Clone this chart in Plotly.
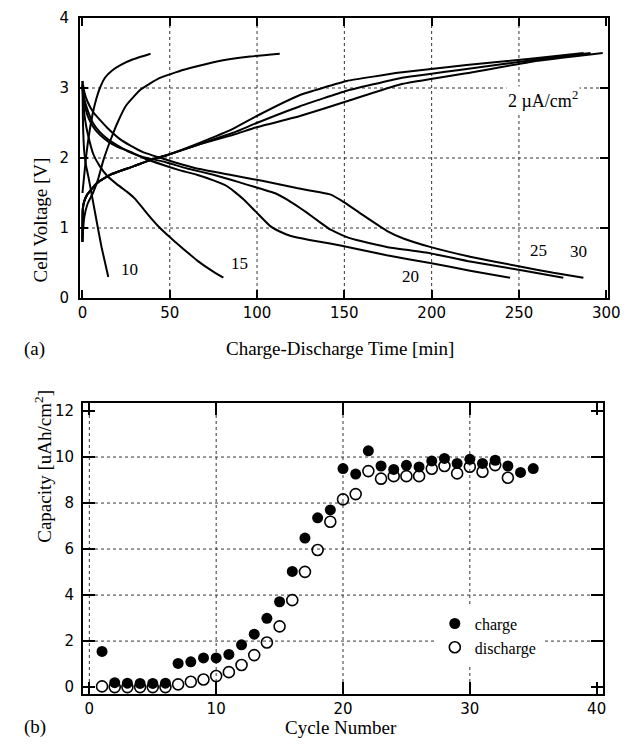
import plotly.graph_objects as go

# ---------------- Panel (a): charge / discharge curves (2 uA/cm2) ----------------
# charge curves
c10_t = [0, 1, 2, 3, 4.5, 6, 8, 10, 13, 17, 22, 29, 39]
c10_v = [1.5, 1.75, 2.0, 2.2, 2.45, 2.65, 2.85, 3.0, 3.15, 3.25, 3.33, 3.41, 3.49]
c15_t = [0, 1, 3, 6, 9, 12, 16, 20, 25, 33, 44, 58, 77, 96, 113]
c15_v = [0.85, 1.15, 1.35, 1.5, 1.7, 1.97, 2.25, 2.5, 2.75, 2.97, 3.14, 3.26, 3.38, 3.45, 3.49]
c20_t = [0, 0.2, 1, 2.8, 8.2, 15.8, 29.2, 38.7, 48.3, 67.4, 86.4, 99.8, 124.6, 151.4, 181.9, 220, 258, 287]
c20_v = [0.8, 1.27, 1.38, 1.48, 1.64, 1.76, 1.88, 1.97, 2.04, 2.22, 2.42, 2.6, 2.9, 3.1, 3.22, 3.33, 3.42, 3.5]
c25_t = [0, 0.2, 1, 2.8, 8.2, 15.8, 29.2, 38.7, 48.3, 67.4, 86.4, 99.8, 124.6, 151.4, 181.9, 220, 258, 291]
c25_v = [0.8, 1.27, 1.38, 1.48, 1.64, 1.76, 1.88, 1.97, 2.04, 2.2, 2.36, 2.5, 2.74, 2.96, 3.14, 3.27, 3.40, 3.5]
c30_t = [0, 0.2, 1, 2.8, 8.2, 15.8, 29.2, 38.7, 48.3, 67.4, 86.4, 99.8, 124.6, 151.4, 181.9, 220, 258, 298]
c30_v = [0.8, 1.27, 1.38, 1.48, 1.64, 1.76, 1.88, 1.97, 2.04, 2.2, 2.33, 2.44, 2.6, 2.81, 3.05, 3.21, 3.38, 3.5]

# discharge curves
d10_t = [0, 0.3, 1, 2, 3.5, 5, 7, 9, 11, 13, 14.8]
d10_v = [3.1, 2.5, 2.1, 1.9, 1.72, 1.52, 1.25, 0.98, 0.72, 0.5, 0.3]
d15_t = [0, 0.5, 1.5, 3, 6.3, 10, 14, 20, 25.4, 30, 35, 40, 44.4, 50, 55, 61.6, 66, 71, 76, 80.7]
d15_v = [3.05, 2.8, 2.55, 2.35, 2.05, 1.88, 1.75, 1.62, 1.52, 1.42, 1.27, 1.12, 1.0, 0.87, 0.76, 0.62, 0.53, 0.44, 0.36, 0.29]
d20_t = [0, 1, 3, 6, 10, 15, 20, 27.3, 35, 46.3, 55, 65.5, 75, 82.6, 87, 92.2, 99.8, 107.4, 113, 118.9, 130, 141.8, 155.2, 174.3, 199.1, 222, 244.9]
d20_v = [3.05, 2.8, 2.6, 2.45, 2.33, 2.23, 2.16, 2.09, 2.0, 1.90, 1.83, 1.76, 1.68, 1.6, 1.52, 1.41, 1.22, 1.03, 0.95, 0.89, 0.83, 0.78, 0.71, 0.61, 0.50, 0.39, 0.29]
d25_t = [0, 1, 3, 6, 10, 15, 20, 27.3, 35, 46.3, 60, 75, 85, 94.1, 103.6, 110, 117, 122, 128.5, 136.1, 141.8, 151.4, 160, 174.3, 199.1, 222, 250.6, 275.4]
d25_v = [3.0, 2.85, 2.68, 2.5, 2.37, 2.26, 2.18, 2.08, 2.01, 1.95, 1.85, 1.76, 1.69, 1.62, 1.55, 1.5, 1.41, 1.33, 1.22, 1.08, 0.98, 0.87, 0.81, 0.73, 0.64, 0.52, 0.40, 0.29]
d30_t = [0, 1, 3, 6.3, 13.9, 21.5, 27.3, 35, 46.3, 65.5, 84.5, 103.6, 122.7, 136, 141.8, 150.4, 160.9, 174.3, 183.8, 199.1, 222, 250.6, 269.7, 286.9]
d30_v = [3.1, 2.95, 2.8, 2.65, 2.44, 2.27, 2.18, 2.08, 1.99, 1.85, 1.76, 1.67, 1.57, 1.51, 1.48, 1.36, 1.18, 0.96, 0.85, 0.73, 0.59, 0.45, 0.36, 0.29]

curve_labels = ["10", "15", "20", "25", "30"]
label_t = [27, 90, 187.6, 261, 284]
label_v = [0.41, 0.49, 0.31, 0.68, 0.66]

# ---------------- Panel (b): capacity vs cycle ----------------
charge_cycle = list(range(1, 36))
charge_cap = [1.55, 0.19, 0.17, 0.16, 0.16, 0.17, 1.03, 1.1, 1.27, 1.27, 1.42, 1.84, 2.3, 2.99, 3.71,
              5.03, 6.48, 7.36, 7.70, 9.5, 9.26, 10.27, 9.61, 9.46, 9.64, 9.57, 9.83, 9.94, 9.72, 9.90,
              9.72, 9.86, 9.61, 9.33, 9.5]
discharge_cycle = list(range(1, 34))
discharge_cap = [0.03, 0.0, 0.0, 0.0, 0.0, 0.0, 0.12, 0.23, 0.33, 0.48, 0.65, 0.96, 1.39, 1.94, 2.64,
                 3.78, 5.01, 5.96, 7.19, 8.16, 8.39, 9.39, 9.06, 9.17, 9.17, 9.17, 9.49, 9.61, 9.29, 9.58,
                 9.36, 9.65, 9.1]

fig = go.Figure()

line_style = dict(color="black", width=2, shape="spline", smoothing=0.35)
for t, v in [(c10_t, c10_v), (c15_t, c15_v), (c20_t, c20_v), (c25_t, c25_v), (c30_t, c30_v),
             (d10_t, d10_v), (d15_t, d15_v), (d20_t, d20_v), (d25_t, d25_v), (d30_t, d30_v)]:
    fig.add_trace(go.Scatter(x=t, y=v, mode="lines", line=line_style, showlegend=False,
                             xaxis="x", yaxis="y", hoverinfo="skip"))

fig.add_trace(go.Scatter(x=charge_cycle, y=charge_cap, mode="markers", name="charge",
                         marker=dict(symbol="circle", size=11, color="black"),
                         xaxis="x2", yaxis="y2"))
fig.add_trace(go.Scatter(x=discharge_cycle, y=discharge_cap, mode="markers", name="discharge",
                         marker=dict(symbol="circle-open", size=11, color="black", line=dict(width=1.6)),
                         xaxis="x2", yaxis="y2"))

tickfont = dict(family="DejaVu Sans", size=15, color="black")
serif = "Liberation Serif"

common = dict(showline=True, linecolor="black", linewidth=2, mirror="ticks", ticks="inside",
              tickcolor="black", tickwidth=1.5, showgrid=False, zeroline=False, tickfont=tickfont,
              automargin=False, ticklabeloverflow="allow")

# the page body adds an 8px offset, so margins are reduced by 8px on the left/top
fig.update_layout(
    width=634, height=756,
    margin=dict(l=72, r=34, t=10, b=70, autoexpand=False),
    paper_bgcolor="white", plot_bgcolor="white",
    xaxis=dict(domain=[0, 1], range=[-1.4, 301], dtick=50, tick0=0, ticklen=8, anchor="y", **common),
    yaxis=dict(domain=[0.5858, 1], range=[0, 4.0], dtick=1, ticklen=8, anchor="x",
               ticklabelstandoff=6, **common),
    xaxis2=dict(domain=[0.0057, 0.9905], range=[-0.5, 40.5], dtick=10, tick0=0, ticklen=12,
                anchor="y2", **common),
    yaxis2=dict(domain=[0, 0.4305], range=[-0.3, 12.35], dtick=2, ticklen=12, anchor="x2",
                ticklabelstandoff=4, **common),
    showlegend=True,
    legend=dict(x=0.672, y=0.1293, xanchor="left", yanchor="top", bgcolor="white",
                font=dict(family=serif, size=16, color="black"), tracegroupgap=0,
                itemwidth=30),
)

# dotted grid lines
grid = dict(color="#333", width=1, dash="dot")
shapes = []
for gx in [50, 100, 150, 200, 250]:
    shapes.append(dict(type="line", xref="x", yref="y", x0=gx, x1=gx, y0=0, y1=4, line=grid, layer="below"))
for gy in [1, 2, 3]:
    shapes.append(dict(type="line", xref="x", yref="y", x0=-1.4, x1=301, y0=gy, y1=gy, line=grid, layer="below"))
for gx in [0, 10, 20, 30]:
    shapes.append(dict(type="line", xref="x2", yref="y2", x0=gx, x1=gx, y0=-0.3, y1=12.35, line=grid, layer="below"))
for gy in [2, 4, 6, 8, 10]:
    shapes.append(dict(type="line", xref="x2", yref="y2", x0=-0.5, x1=40.5, y0=gy, y1=gy, line=grid, layer="below"))
fig.update_layout(shapes=shapes)

ann = []
for lab, t, v in zip(curve_labels, label_t, label_v):
    ann.append(dict(x=t, y=v, xref="x", yref="y", text=lab, showarrow=False,
                    font=dict(family=serif, size=17, color="black")))
ann.append(dict(x=264, y=2.84, xref="x", yref="y", text="2 \u00b5A/cm<sup>2</sup>", showarrow=False,
                bgcolor="white", font=dict(family=serif, size=18, color="black")))
ann.append(dict(x=-0.098, y=0.797, xref="paper", yref="paper", text="Cell Voltage [V]", textangle=-90,
                showarrow=False, font=dict(family=serif, size=19, color="black")))
ann.append(dict(x=0.492, y=0.5104, xref="paper", yref="paper", text="Charge-Discharge Time [min]",
                showarrow=False, font=dict(family=serif, size=19, color="black")))
ann.append(dict(x=-0.11, y=0.5104, xref="paper", yref="paper", text="(a)",
                showarrow=False, font=dict(family=serif, size=19, color="black")))
ann.append(dict(x=-0.098, y=0.2204, xref="paper", yref="paper", text="Capacity [uAh/cm<sup>2</sup>]",
                textangle=-90, showarrow=False, font=dict(family=serif, size=19, color="black")))
ann.append(dict(x=0.494, y=-0.068, xref="paper", yref="paper", text="Cycle Number",
                showarrow=False, font=dict(family=serif, size=19, color="black")))
ann.append(dict(x=-0.11, y=-0.068, xref="paper", yref="paper", text="(b)",
                showarrow=False, font=dict(family=serif, size=19, color="black")))
fig.update_layout(annotations=ann)

fig.write_html("out.html")
